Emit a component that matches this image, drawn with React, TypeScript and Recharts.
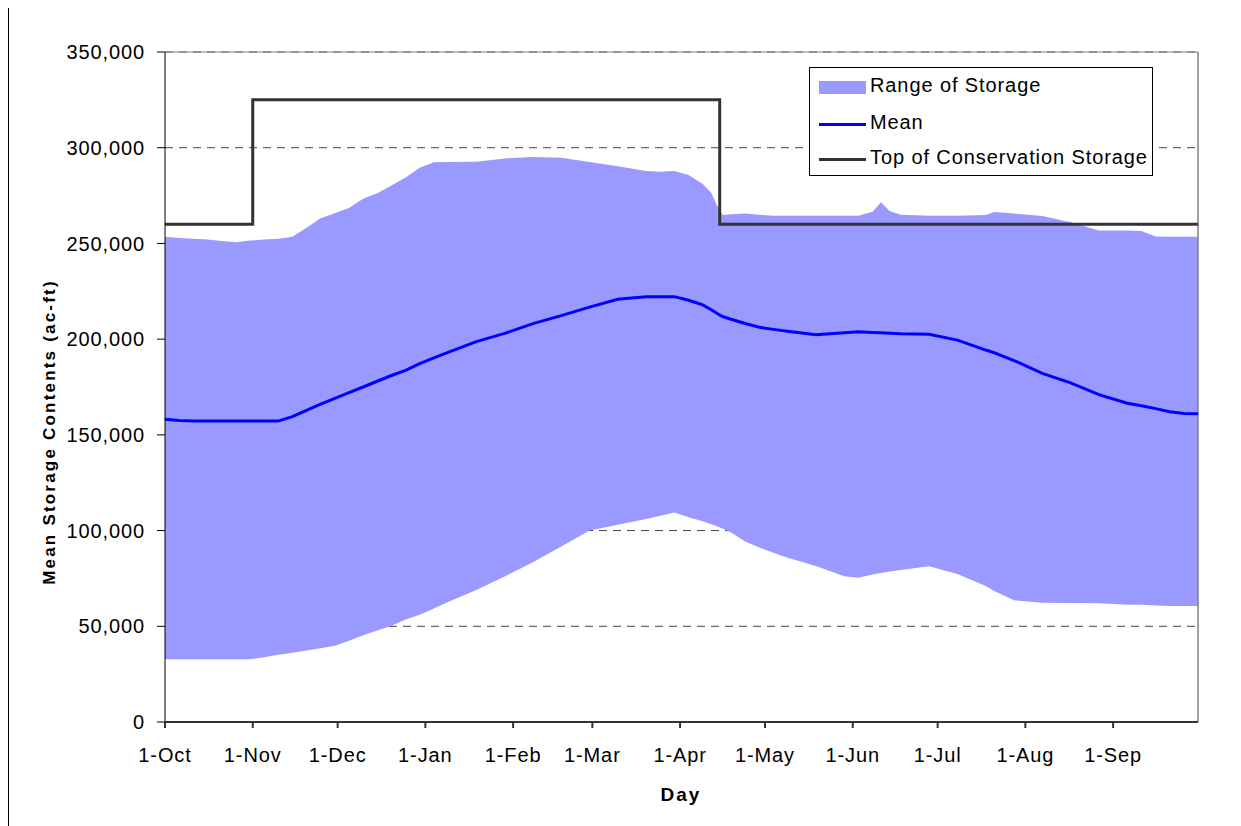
import React from 'react';
import { ComposedChart, Area, Line, XAxis, YAxis, CartesianGrid, ReferenceLine } from 'recharts';

// day of water year (0 = 1-Oct)
const days = [
  0, 5, 10, 15, 20, 25, 30, 35, 40, 45, 50, 55, 60, 65, 70, 75, 80, 85, 90, 95, 100,
  110, 120, 130, 140, 150, 160, 170, 175, 180, 185, 190, 193, 195, 197, 200, 205, 210, 215, 220,
  230, 240, 245, 250, 253, 256, 260, 270, 280, 290, 293, 300, 310, 320, 330, 340, 345, 350, 355, 360, 365,
];

const upper = [
  253500, 252800, 252500, 252000, 251300, 250600, 251500, 252000, 252400, 253500, 258200, 263200, 265700, 268500, 273300, 276200, 280300, 284400, 289500, 292400, 292500,
  292700, 294400, 295100, 294800, 292500, 290300, 287800, 287500, 287800, 285800, 281000, 276500, 270000, 264900, 265200, 265600, 265000, 264500, 264500,
  264500, 264500, 264500, 266600, 271500, 267000, 265000, 264500, 264500, 264800, 266400, 265600, 264300, 261000, 256800, 256800, 256500, 253600, 253500, 253500, 253500,
];

const lower = [
  32750, 32750, 32750, 32750, 32750, 32750, 32750, 33800, 35100, 36200, 37300, 38500, 39800, 42400, 45300, 47800, 50300, 53600, 56000, 59300, 62700,
  69000, 76000, 83500, 91700, 100000, 103000, 106100, 107700, 109400, 107000, 104900, 103300, 102200, 101100, 99000, 94300, 91200, 88400, 85800,
  81500, 76200, 75300, 77000, 77800, 78600, 79400, 81300, 77300, 71000, 68400, 63600, 62300, 62200, 62000, 61300, 61200, 60900, 60600, 60600, 60600,
];

const mean = [
  158100, 157500, 157200, 157200, 157200, 157200, 157200, 157200, 157200, 159500, 162800, 166100, 169100, 172100, 175000, 178000, 181000, 183700, 187200, 190200, 193100,
  198700, 203000, 208100, 212300, 216700, 220800, 222200, 222200, 222200, 220300, 217900, 215400, 213500, 211800, 210400, 208200, 206200, 205100, 204100,
  202300, 203300, 203900, 203500, 203300, 203100, 202800, 202600, 199500, 194300, 192900, 188800, 182100, 177200, 171000, 166500, 165200, 163700, 162100, 161200, 161000,
];

// top of conservation pool, step changes
const consDays = [0, 31, 196, 365];
const consValues = [260000, 325000, 260000, 260000];

const monthTicks = [0, 31, 61, 92, 123, 151, 182, 212, 243, 273, 304, 335];
const monthLabels = ['1-Oct', '1-Nov', '1-Dec', '1-Jan', '1-Feb', '1-Mar', '1-Apr', '1-May', '1-Jun', '1-Jul', '1-Aug', '1-Sep'];
const yTicks = [0, 50000, 100000, 150000, 200000, 250000, 300000, 350000];

const rows = days.map((d, i) => ({ day: d, range: [lower[i], upper[i]], mean: mean[i] }));
const consRows = consDays.map((d, i) => ({ day: d, cons: consValues[i] }));

const FONT = '"Liberation Sans", Arial, sans-serif';
const tickStyle = { fontFamily: FONT, fontSize: 20, fill: '#000', letterSpacing: 0.9 };

export default function App() {
  return (
    <div style={{ position: 'relative', width: 1233, height: 818, marginTop: -1, borderLeft: '1px solid #000', borderTop: '1px solid #000', background: '#fff', fontFamily: FONT }}>
      <ComposedChart width={1232} height={818} margin={{ top: 44, right: 43, bottom: 44, left: 0 }}>
        <CartesianGrid horizontal vertical={false} stroke="#444" strokeDasharray="8 6" />
        <XAxis
          dataKey="day"
          type="number"
          domain={[0, 365]}
          ticks={monthTicks}
          tickFormatter={(v: number) => monthLabels[monthTicks.indexOf(v)] ?? ''}
          height={60}
          tickSize={6}
          tickMargin={20}
          tick={tickStyle}
          stroke="#333"
          strokeWidth={2}
          allowDuplicatedCategory={false}
        />
        <YAxis
          type="number"
          domain={[0, 350000]}
          ticks={yTicks}
          tickFormatter={(v: number) => v.toLocaleString('en-US')}
          width={156}
          tickSize={8}
          tickMargin={12}
          tick={tickStyle}
          stroke="#000"
        />
        <Area data={rows} dataKey="range" type="linear" stroke="none" fill="#9999FF" fillOpacity={1} isAnimationActive={false} />
        <ReferenceLine y={350000} stroke="#808080" strokeWidth={1} />
        <ReferenceLine x={365} stroke="#808080" strokeWidth={1.5} />
        <Line data={rows} dataKey="mean" type="linear" stroke="#0000FF" strokeWidth={3} dot={false} isAnimationActive={false} />
        <Line data={consRows} dataKey="cons" type="stepAfter" stroke="#333333" strokeWidth={3} dot={false} isAnimationActive={false} />
      </ComposedChart>

      {/* axis titles */}
      <div style={{ position: 'absolute', left: 672, top: 777, width: 0, display: 'flex', justifyContent: 'center' }}>
        <div style={{ fontSize: 19, lineHeight: '19px', fontWeight: 'bold', letterSpacing: 2, whiteSpace: 'nowrap' }}>Day</div>
      </div>
      <div
        style={{
          position: 'absolute',
          left: 40,
          top: 424,
          transform: 'translate(-50%, -50%) rotate(-90deg)',
          fontSize: 17,
          lineHeight: '17px',
          fontWeight: 'bold',
          letterSpacing: 2.2,
          whiteSpace: 'nowrap',
        }}
      >
        Mean Storage Contents (ac-ft)
      </div>

      {/* legend */}
      <div style={{ position: 'absolute', left: 800, top: 59, width: 342, height: 107, border: '1px solid #000', background: '#fff' }}>
        <div style={{ position: 'absolute', left: 9, top: 13, width: 47, height: 13, background: '#9999FF' }} />
        <div style={{ position: 'absolute', left: 9, top: 55, width: 47, height: 3, background: '#0000FF' }} />
        <div style={{ position: 'absolute', left: 9, top: 90, width: 47, height: 3, background: '#333333' }} />
        {['Range of Storage', 'Mean', 'Top of Conservation Storage'].map((t, i) => (
          <div key={t} style={{ position: 'absolute', left: 60, top: [7, 44, 79][i], fontSize: 20, lineHeight: '20px', letterSpacing: 0.9, whiteSpace: 'nowrap' }}>
            {t}
          </div>
        ))}
      </div>
    </div>
  );
}
